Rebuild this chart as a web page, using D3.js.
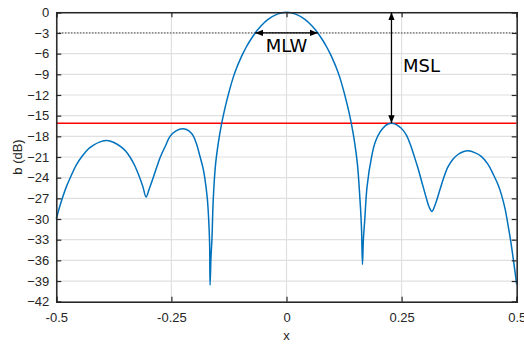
<!DOCTYPE html>
<html>
<head>
<meta charset="utf-8">
<script src="https://cdn.jsdelivr.net/npm/d3@7"></script>
<style>
  html, body { margin: 0; padding: 0; background: #fff; }
  svg { display: block; }
</style>
</head>
<body>
<svg id="chart" width="524" height="344"></svg>
<script>
// Beam pattern samples: normalized position x and level b in dB
const xPos = [
  -0.5, -0.493, -0.486, -0.478, -0.469, -0.457, -0.444, -0.43, -0.42, -0.405,
  -0.39, -0.375, -0.36, -0.35, -0.34, -0.33, -0.32, -0.312, -0.305, -0.298,
  -0.289, -0.281, -0.274, -0.263, -0.253, -0.24, -0.225, -0.212, -0.202, -0.195,
  -0.188, -0.182, -0.178, -0.172, -0.169, -0.167, -0.166, -0.164, -0.162, -0.159,
  -0.154, -0.148, -0.141, -0.136, -0.13, -0.1226, -0.115, -0.108, -0.101, -0.094,
  -0.087, -0.08, -0.068, -0.055, -0.04, -0.02, 0, 0.02, 0.04, 0.055,
  0.068, 0.08, 0.087, 0.094, 0.101, 0.108, 0.115, 0.1226, 0.13, 0.136,
  0.141, 0.148, 0.154, 0.158, 0.161, 0.163, 0.165, 0.167, 0.17, 0.175,
  0.185, 0.193, 0.203, 0.215, 0.222, 0.228, 0.235, 0.245, 0.253, 0.261,
  0.269, 0.277, 0.285, 0.293, 0.303, 0.31, 0.316, 0.323, 0.333, 0.342,
  0.351, 0.362, 0.373, 0.385, 0.394, 0.41, 0.423, 0.437, 0.449, 0.46,
  0.467, 0.475, 0.481, 0.487, 0.493, 0.5
];
const levelDb = [
  -30, -28.3, -26.8, -25.3, -23.9, -22.2, -20.9, -19.8, -19.3, -18.8,
  -18.6, -18.9, -19.5, -20.1, -21.0, -22.2, -23.8, -25.3, -26.8, -25.6,
  -23.9, -22.3, -21.0, -19.4, -18.0, -17.2, -16.9, -17.2, -18.0, -19.2,
  -20.9, -22.4, -23.8, -27, -30.1, -33.5, -39.6, -35.5, -33, -27,
  -22.0, -18.9, -16.2, -14.6, -12.9, -11.0, -9.3, -8.0, -6.9, -5.9,
  -5.0, -4.2, -3.0, -1.96, -1.04, -0.26, 0, -0.26, -1.04, -1.96,
  -3.0, -4.2, -5.0, -5.9, -6.9, -8.0, -9.3, -11.0, -12.9, -14.6,
  -16.2, -18.9, -22.0, -25.5, -28.7, -31.5, -36.6, -33, -30.1, -25.3,
  -20.9, -18.8, -17.4, -16.45, -16.17, -16.1, -16.2, -16.6, -17.1, -17.9,
  -19.2, -20.8, -22.5, -24.4, -26.8, -28.3, -28.9, -27.9, -25.8, -23.9,
  -22.4, -21.3, -20.6, -20.2, -20.1, -20.4, -20.9, -22.0, -23.5, -25.1,
  -26.5, -28.6, -30.8, -33.2, -36.0, -39.5
];

const xTicks = [-0.5, -0.25, 0, 0.25, 0.5];
const xTickLabels = ["-0.5", "-0.25", "0", "0.25", "0.5"];
const yTicks = [0, -3, -6, -9, -12, -15, -18, -21, -24, -27, -30, -33, -36, -39, -42];

// Reference levels and annotations
const halfPowerDb = -3;
const mainLobeHalfWidth = [-0.068, 0.068];
const sidelobePeak = { x: 0.228, db: -16.1 };

const svg = d3.select("#chart");
const plot = { left: 56.3, right: 516.7, top: 12.3, bottom: 301.7 };

const x = d3.scaleLinear().domain([-0.5, 0.5]).range([plot.left, plot.right]);
const y = d3.scaleLinear().domain([-42, 0]).range([plot.bottom, plot.top]);

const axisColor = "#262626";
const gridColor = "#e0e0e0";
const tickFont = "Liberation Sans, Arial, sans-serif";

// Grid
const grid = svg.append("g");
grid.selectAll("line.gy").data(yTicks).join("line")
  .attr("class", "gy")
  .attr("x1", plot.left).attr("x2", plot.right)
  .attr("y1", d => y(d)).attr("y2", d => y(d))
  .attr("stroke", gridColor).attr("stroke-width", 1.2);
grid.selectAll("line.gx").data(xTicks).join("line")
  .attr("class", "gx")
  .attr("x1", d => x(d)).attr("x2", d => x(d))
  .attr("y1", plot.top).attr("y2", plot.bottom)
  .attr("stroke", gridColor).attr("stroke-width", 1.2);

// -3 dB dotted reference
svg.append("line")
  .attr("x1", plot.left).attr("x2", plot.right)
  .attr("y1", y(halfPowerDb)).attr("y2", y(halfPowerDb))
  .attr("stroke", "#000").attr("stroke-width", 1)
  .attr("stroke-dasharray", "1,2");

// Max sidelobe level (red)
svg.append("line")
  .attr("x1", plot.left).attr("x2", plot.right)
  .attr("y1", y(sidelobePeak.db)).attr("y2", y(sidelobePeak.db))
  .attr("stroke", "#ff0000").attr("stroke-width", 1.3);

// Pattern curve
const line = d3.line()
  .x((d, i) => x(xPos[i]))
  .y(d => y(d))
  .curve(d3.curveCatmullRom.alpha(0.5));
svg.append("path")
  .datum(levelDb)
  .attr("d", line)
  .attr("fill", "none")
  .attr("stroke", "#0072BD")
  .attr("stroke-width", 1.5);

// Axes (box with inward ticks)
const gAxes = svg.append("g");
const yLeft = d3.axisLeft(y).tickValues(yTicks).tickSize(-5).tickPadding(7).tickFormat(d3.format("d"));
const yRight = d3.axisRight(y).tickValues(yTicks).tickSize(-5).tickFormat("");
const xBottom = d3.axisBottom(x).tickValues(xTicks).tickSize(-5).tickPadding(11)
  .tickFormat((d, i) => xTickLabels[i]);
const xTop = d3.axisTop(x).tickValues(xTicks).tickSize(-5).tickFormat("");

function styleAxis(g) {
  g.select(".domain").attr("stroke", axisColor).attr("stroke-width", 1.5);
  g.selectAll(".tick line").attr("stroke", axisColor).attr("stroke-width", 1.2);
  g.selectAll(".tick text").attr("fill", axisColor)
    .attr("font-family", tickFont).attr("font-size", 13);
}
gAxes.append("g").attr("transform", `translate(${plot.left},0)`).call(yLeft).call(styleAxis);
gAxes.append("g").attr("transform", `translate(${plot.right},0)`).call(yRight).call(styleAxis);
gAxes.append("g").attr("transform", `translate(0,${plot.bottom})`).call(xBottom).call(styleAxis);
gAxes.append("g").attr("transform", `translate(0,${plot.top})`).call(xTop).call(styleAxis);

// Axis titles
svg.append("text")
  .attr("x", (plot.left + plot.right) / 2).attr("y", 340)
  .attr("text-anchor", "middle")
  .attr("font-family", tickFont).attr("font-size", 13).attr("fill", axisColor)
  .text("x");
svg.append("text")
  .attr("transform", `translate(22,${(plot.top + plot.bottom) / 2}) rotate(-90)`)
  .attr("text-anchor", "middle")
  .attr("font-family", tickFont).attr("font-size", 13).attr("fill", axisColor)
  .text("b (dB)");

// Arrow markers
const defs = svg.append("defs");
defs.append("marker")
  .attr("id", "arrowHead")
  .attr("viewBox", "0 0 10 10")
  .attr("refX", 10).attr("refY", 5)
  .attr("markerWidth", 8).attr("markerHeight", 8)
  .attr("markerUnits", "userSpaceOnUse")
  .attr("orient", "auto-start-reverse")
  .append("path").attr("d", "M0,1 L10,5 L0,9 Z").attr("fill", "#000");

// Main lobe width arrow
svg.append("line")
  .attr("x1", x(mainLobeHalfWidth[0])).attr("x2", x(mainLobeHalfWidth[1]))
  .attr("y1", y(halfPowerDb)).attr("y2", y(halfPowerDb))
  .attr("stroke", "#000").attr("stroke-width", 1.3)
  .attr("marker-start", "url(#arrowHead)").attr("marker-end", "url(#arrowHead)");
svg.append("text")
  .attr("x", x(0)).attr("y", 52)
  .attr("text-anchor", "middle")
  .attr("font-family", "DejaVu Sans, sans-serif").attr("font-size", 18).attr("fill", "#000")
  .text("MLW");

// Max sidelobe arrow
svg.append("line")
  .attr("x1", x(sidelobePeak.x)).attr("x2", x(sidelobePeak.x))
  .attr("y1", y(0)).attr("y2", y(sidelobePeak.db))
  .attr("stroke", "#000").attr("stroke-width", 1.3)
  .attr("marker-start", "url(#arrowHead)").attr("marker-end", "url(#arrowHead)");
svg.append("text")
  .attr("x", 403).attr("y", 72)
  .attr("font-family", "DejaVu Sans, sans-serif").attr("font-size", 18).attr("fill", "#000")
  .text("MSL");
</script>
</body>
</html>
